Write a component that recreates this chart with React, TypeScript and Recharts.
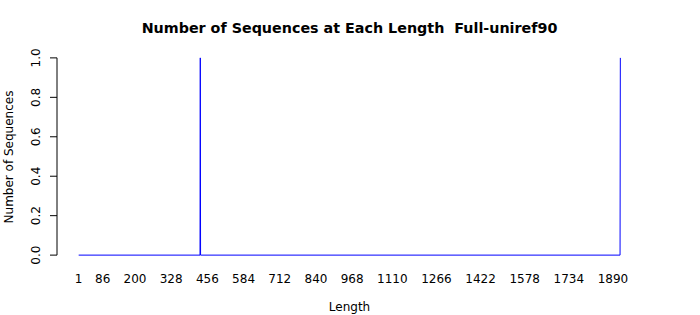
import React from 'react';
import { LineChart, Line, XAxis, YAxis, ReferenceLine } from 'recharts';

const lengths = [1, 430, 431, 432, 1915, 1916];
const counts = [0, 0, 1, 0, 0, 1];
const xTicks = [1, 86, 200, 328, 456, 584, 712, 840, 968, 1110, 1266, 1422, 1578, 1734, 1890];
const yTicks = [0, 0.2, 0.4, 0.6, 0.8, 1.0];
const yTickLabels = ['0.0', '0.2', '0.4', '0.6', '0.8', '1.0'];
const title = 'Number of Sequences at Each Length  Full-uniref90';
const xLabel = 'Length';
const yLabel = 'Number of Sequences';

const data = lengths.map((l, i) => ({ length: l, count: counts[i] }));

const xLo = lengths[0];
const xHi = lengths[lengths.length - 1];
const xPad = (xHi - xLo) * 0.04;
const yPad = 0.04;

const FONT = '"DejaVu Sans", sans-serif';

const YTick = (props: any) => {
  const { x, y, payload } = props;
  const idx = yTicks.indexOf(payload.value);
  const label = idx >= 0 ? yTickLabels[idx] : String(payload.value);
  return (
    <text
      x={x}
      y={y}
      transform={`rotate(-90 ${x} ${y})`}
      textAnchor="middle"
      fontSize={12}
      fontFamily={FONT}
      fill="#000"
    >
      {label}
    </text>
  );
};

export default function App() {
  return (
    <div style={{ position: 'absolute', left: 0, top: 0, width: 700, height: 315, background: '#fff' }}>
      <LineChart
        width={700}
        height={315}
        data={data}
        margin={{ top: 50, right: 58, bottom: 0, left: 0 }}
      >
        <XAxis
          type="number"
          dataKey="length"
          domain={[xLo - xPad, xHi + xPad]}
          allowDataOverflow
          ticks={xTicks}
          interval={0}
          axisLine={false}
          tickLine={false}
          tickSize={0}
          tickMargin={11}
          height={52}
          tick={{ fontSize: 12, fontFamily: FONT, fill: '#000' }}
        />
        <YAxis
          type="number"
          domain={[-yPad, 1 + yPad]}
          allowDataOverflow
          ticks={yTicks}
          interval={0}
          width={57}
          axisLine={false}
          tickLine={{ stroke: '#000' }}
          tickSize={7}
          tickMargin={10}
          tick={<YTick />}
        />
        <ReferenceLine
          segment={[{ x: xLo - xPad, y: 0 }, { x: xLo - xPad, y: 1 }]}
          stroke="#000"
          strokeWidth={1}
          ifOverflow="visible"
        />
        <Line
          type="linear"
          dataKey="count"
          stroke="#0000ff"
          strokeWidth={1}
          dot={false}
          activeDot={false}
          isAnimationActive={false}
        />
        <text
          x={349.5}
          y={33}
          textAnchor="middle"
          fontSize={14.3}
          fontWeight="bold"
          fontFamily={FONT}
          fill="#000"
          style={{ whiteSpace: 'pre' }}
          xmlSpace="preserve"
        >
          {title}
        </text>
        <text x={349.5} y={311} textAnchor="middle" fontSize={12} fontFamily={FONT} fill="#000">
          {xLabel}
        </text>
        <text x={13} y={157} transform="rotate(-90 13 157)" textAnchor="middle" fontSize={12} fontFamily={FONT} fill="#000">
          {yLabel}
        </text>
      </LineChart>
    </div>
  );
}
